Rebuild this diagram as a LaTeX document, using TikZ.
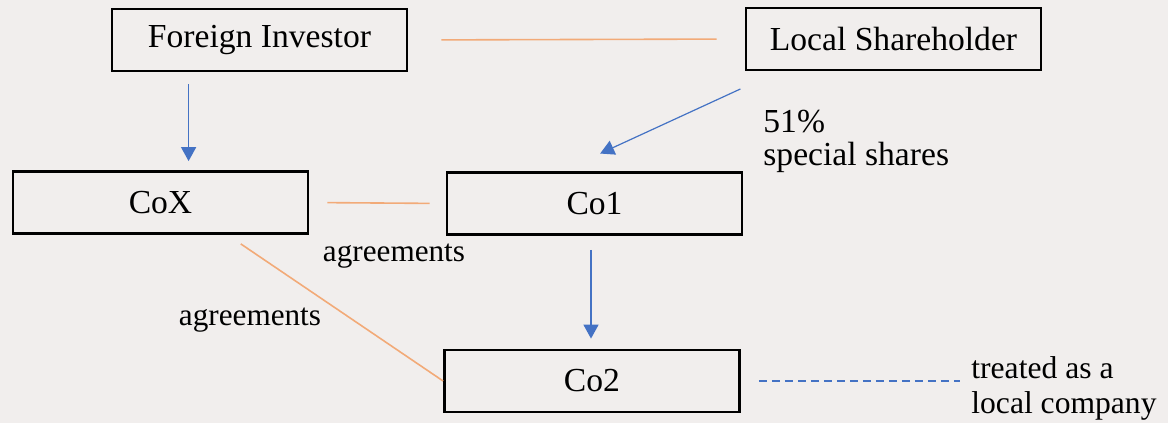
\documentclass[tikz,border=0pt]{standalone}
\usepackage{fontspec}
\setmainfont{Liberation Serif}
\usetikzlibrary{arrows.meta}
\definecolor{paperbg}{RGB}{241, 238, 237}
\definecolor{linkorange}{RGB}{242, 170, 120}
\definecolor{ownblue}{RGB}{68, 114, 196}

\begin{document}
\begin{tikzpicture}[
    x=0.5pt,
    y=-0.5pt,
    entity/.style={draw=black, line width=1.4pt, minimum width=147.5pt, minimum height=31pt,
        inner sep=0pt, font=\fontsize{16.8}{18}\selectfont},
    note/.style={align=left, inner sep=0pt, font=\fontsize{16.8}{16.5}\selectfont},
    agree/.style={draw=linkorange, line width=0.8pt},
    owns/.style={draw=ownblue, line width=0.8pt, -{Triangle[width=7.5pt,length=7pt]}}
]
    % Canvas
    \fill[paperbg] (0,0) rectangle (1168,423);
    \useasboundingbox (0,0) rectangle (1168,423);

    % Boxes
    \node[entity] (fi) at (259.5,40) {Foreign Investor};
    \node[entity] (ls) at (893.5,39) {Local Shareholder};
    \node[entity] (cox) at (160.5,202.5) {CoX};
    \node[entity] (co1) at (594.5,203.5) {Co1};
    \node[entity] (co2) at (592,381) {Co2};

    % Labels
    \node[note, anchor=west] (shares) at (763,141) {51\%\\special shares};
    \node[note, font=\fontsize{15.6}{16.5}\selectfont] (agreeA) at (394,256) {agreements};
    \node[note, font=\fontsize{15.6}{16.5}\selectfont] (agreeB) at (250,320) {agreements};
    \node[note, anchor=west, font=\fontsize{15.8}{17.5}\selectfont] (treated) at (971,388)
        {treated as a\\local company};

    % Agreements
    \draw[agree, shorten <=16.5pt, shorten >=14pt] (fi.east) -- (ls.west);
    \draw[agree, shorten <=9pt, shorten >=8pt] (cox.east) -- (co1.west);
    \draw[agree, shorten <=8pt] ([xshift=33.5pt]cox.south) -- (co2.west);

    % Ownership
    \draw[owns, shorten <=6pt, shorten >=4.5pt] ([xshift=39pt]fi.south west) -- ([xshift=88.5pt]cox.north west);
    \draw[owns, line width=0.6pt, shorten <=21pt, shorten >=21pt] ([xshift=17pt]ls.south west) -- ([xshift=-16.25pt]co1.north);
    \draw[owns, shorten <=7pt, shorten >=5pt] ([xshift=-1.75pt]co1.south) -- ([xshift=-0.5pt]co2.north);

    % Status
    \draw[ownblue, line width=0.8pt, dash pattern=on 4pt off 2.5pt, shorten <=9pt, shorten >=5.5pt]
        (co2.east) -- (co2.east -| treated.west);
\end{tikzpicture}
\end{document}
